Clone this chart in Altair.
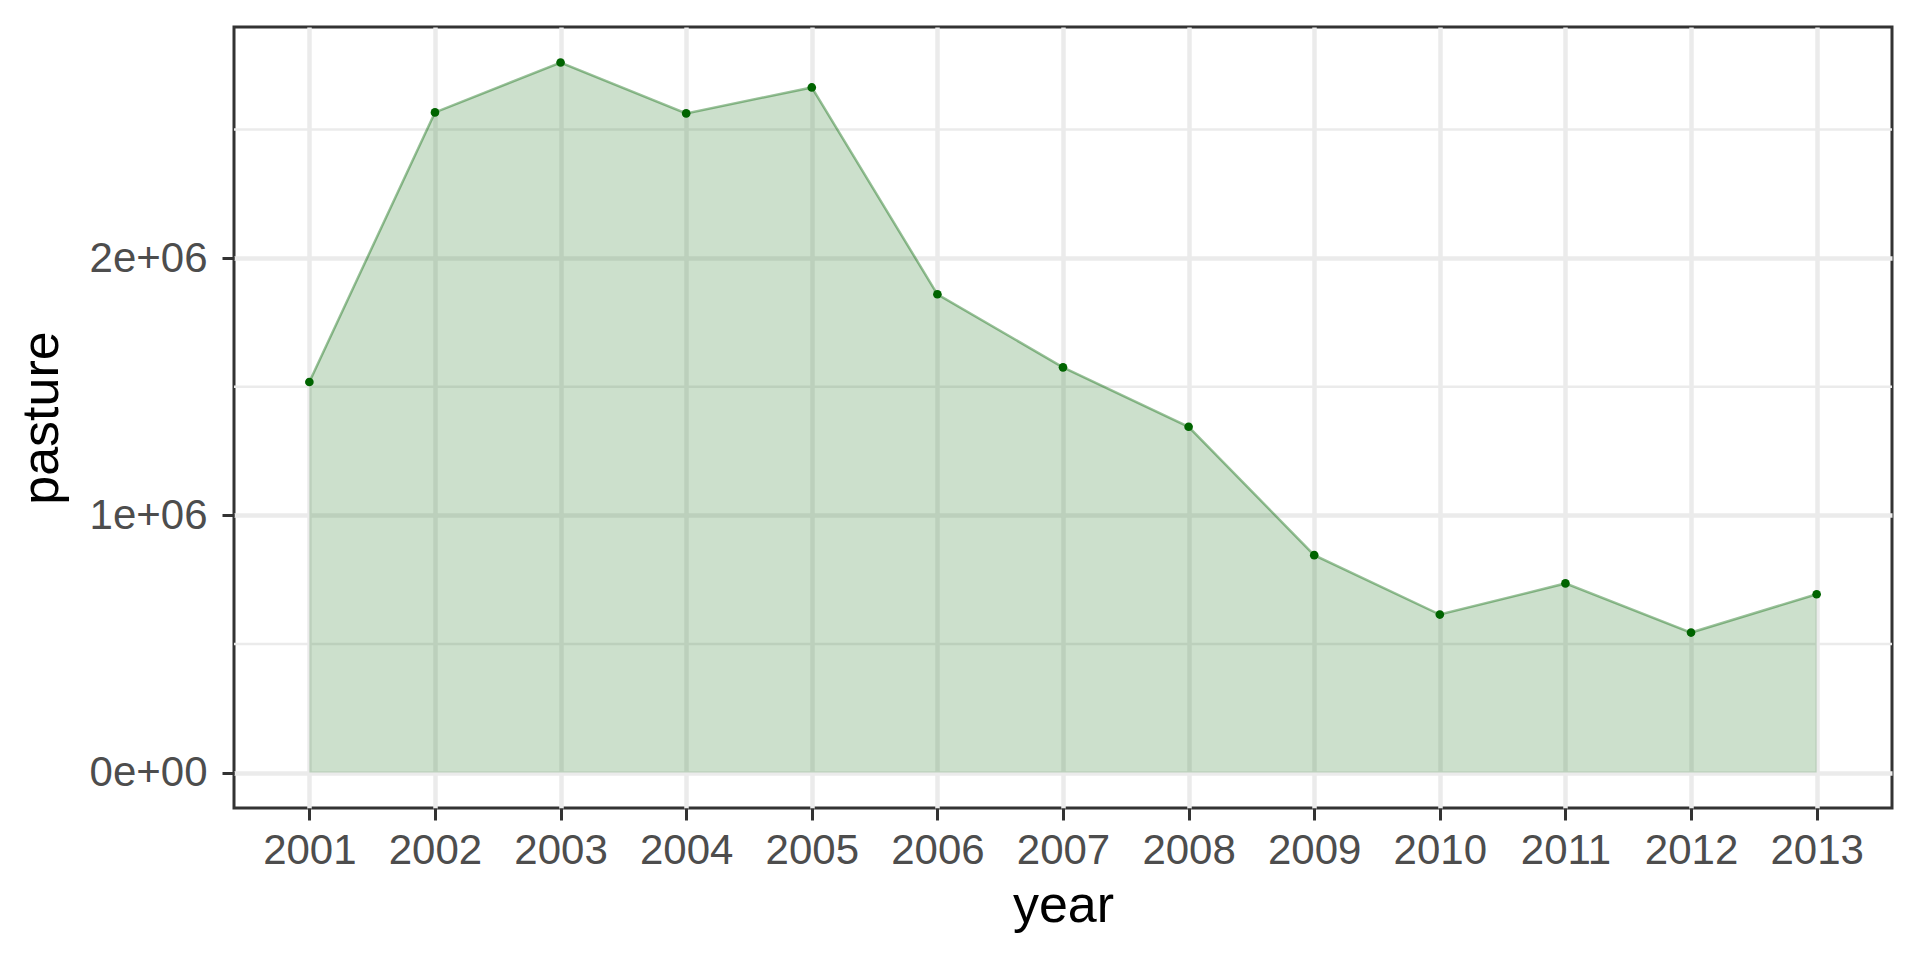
import altair as alt
import pandas as pd

years = [2001, 2002, 2003, 2004, 2005, 2006, 2007, 2008, 2009, 2010, 2011, 2012, 2013]
pasture = [1518000, 2566000, 2760000, 2562000, 2663000, 1859000, 1575000, 1344000,
           845000, 614000, 735000, 544000, 693000]

y_ticks = [0, 1000000, 2000000]
y_tick_labels = ["0e+00", "1e+06", "2e+06"]
y_minor = [500000, 1500000, 2500000]

df = pd.DataFrame({"year": years, "pasture": pasture})
minor_df = pd.DataFrame({"pasture": y_minor})

FONT = "Liberation Sans"
GREEN = "#006400"

label_expr = ""
for v, l in zip(y_ticks, y_tick_labels):
    label_expr += f"datum.value == {v} ? '{l}' : "
label_expr += "''"

x_scale = alt.Scale(domain=[2000.4, 2013.6], nice=False, zero=False)
y_scale = alt.Scale(domain=[-138000, 2898000], nice=False, zero=False)

common_axis = dict(
    labelFont=FONT, labelFontSize=42, labelColor="#4D4D4D",
    titleFont=FONT, titleFontSize=52, titleColor="#000000", titleFontWeight="normal",
    tickColor="#333333", tickWidth=3, tickSize=12,
    domain=False, grid=True, gridColor="#EBEBEB", gridWidth=4.5,
)

x_axis = alt.Axis(values=years, format="d", title="year",
                  labelPadding=10, titlePadding=9, labelFlush=False, **common_axis)
y_axis = alt.Axis(values=y_ticks, labelExpr=label_expr, title="pasture",
                  labelPadding=15, titlePadding=21, labelFlush=False, **common_axis)

minor = alt.Chart(minor_df).mark_rule(color="#EBEBEB", strokeWidth=2.5).encode(
    y=alt.Y("pasture:Q", scale=y_scale, axis=y_axis)
)

base = alt.Chart(df)
area = base.mark_area(color=GREEN, opacity=0.2).encode(
    x=alt.X("year:Q", scale=x_scale, axis=x_axis),
    y=alt.Y("pasture:Q", scale=y_scale, axis=y_axis),
)
line = base.mark_line(color=GREEN, strokeOpacity=0.4, strokeWidth=2.5).encode(
    x=alt.X("year:Q", scale=x_scale, axis=x_axis),
    y=alt.Y("pasture:Q", scale=y_scale, axis=y_axis),
)
pts = base.mark_point(filled=True, color=GREEN, size=75, opacity=1).encode(
    x=alt.X("year:Q", scale=x_scale, axis=x_axis),
    y=alt.Y("pasture:Q", scale=y_scale, axis=y_axis),
)

chart = alt.layer(minor, area, line, pts).properties(
    width=1658, height=781,
    autosize=alt.AutoSizeParams(type="none"),
    padding={"left": 226, "top": 19, "right": 20, "bottom": 136},
).configure(
    background="white"
).configure_view(
    stroke="#333333", strokeWidth=3, fill="white"
)

chart.save("out.html", embed_options={"renderer": "svg", "actions": False})
